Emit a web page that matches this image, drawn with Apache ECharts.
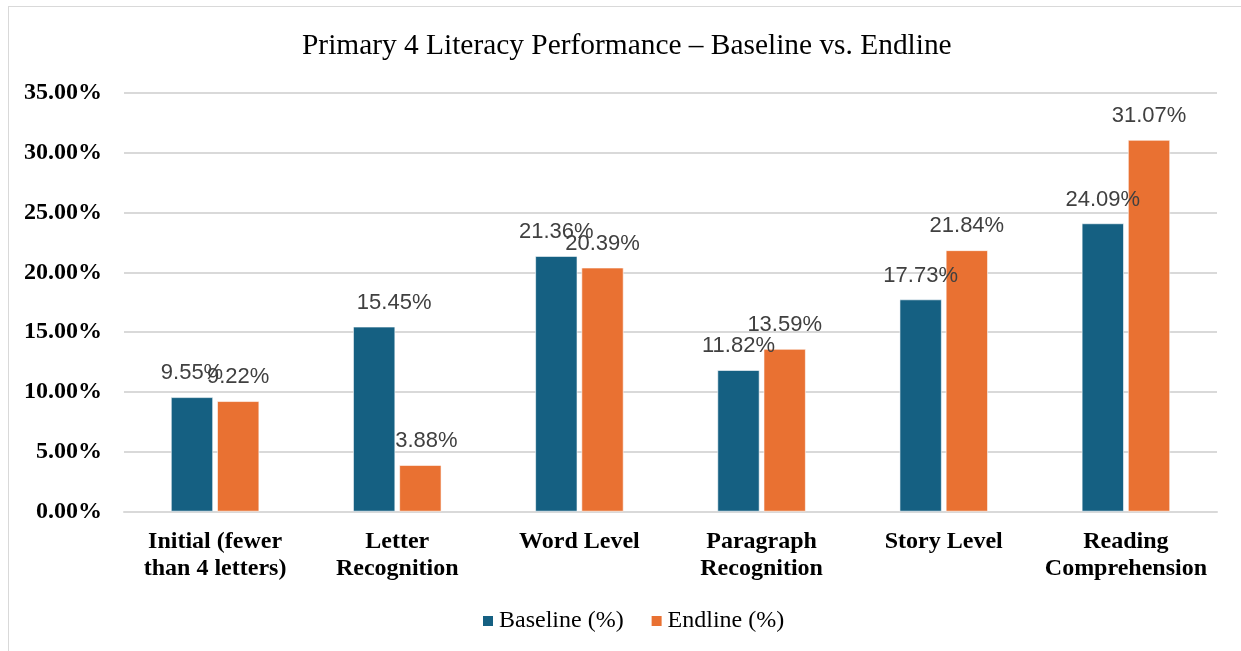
<!DOCTYPE html>
<html>
<head>
<meta charset="utf-8">
<style>
    html, body { margin: 0; padding: 0; background: #fff; }
    #chart { width: 1241px; height: 651px; }
    .frame { position: absolute; left: 8px; top: 6px; right: -2px; bottom: -2px; border: 1px solid #d9d9d9; pointer-events: none; }
</style>
</head>
<body>
<div id="chart"></div>
<div class="frame"></div>
<script src="https://cdn.jsdelivr.net/npm/echarts@6/dist/echarts.min.js"></script>
<script>
    const categories = ['Initial (fewer\nthan 4 letters)', 'Letter\nRecognition', 'Word Level', 'Paragraph\nRecognition', 'Story Level', 'Reading\nComprehension']
    const baseline = [9.55, 15.45, 21.36, 11.82, 17.73, 24.09]
    const endline = [9.22, 3.88, 20.39, 13.59, 21.84, 31.07]
    const legendNames = ['Baseline (%)', 'Endline (%)']

    const myChart = echarts.init(document.getElementById('chart'))
    const serif = '"Liberation Serif", "Times New Roman", serif'
    const sans = '"Liberation Sans", Arial, sans-serif'

    // 柱顶数值标签
    const valueLabel = {
        show: true,
        position: 'top',
        distance: 13,
        color: '#404040',
        fontFamily: sans,
        fontSize: 22,
        formatter: p => p.value.toFixed(2) + '%'
    }

    const option = {
        backgroundColor: '#fff',
        animation: false,
        title: {
            text: 'Primary 4 Literacy Performance \u2013 Baseline vs. Endline',
            left: 297,
            top: 27,
            textStyle: { fontFamily: serif, fontWeight: 'normal', fontSize: 29.4, color: '#000' }
        },
        legend: {
            data: legendNames,
            bottom: 13,
            left: 476,
            icon: 'rect',
            itemWidth: 12,
            itemHeight: 12,
            itemGap: 26,
            textStyle: { fontFamily: serif, fontSize: 24, color: '#000' }
        },
        grid: {
            left: 124,
            right: 24,
            top: 93,
            bottom: 139.5,
            containLabel: false
        },
        xAxis: {
            type: 'category',
            data: categories,
            axisTick: { show: false },
            axisLine: { show: true, lineStyle: { color: '#d9d9d9', width: 2 } },
            axisLabel: {
                margin: 17,
                interval: 0,
                fontFamily: serif,
                fontWeight: 'bold',
                fontSize: 24,
                lineHeight: 27,
                color: '#000'
            }
        },
        yAxis: {
            type: 'value',
            min: 0,
            max: 35,
            interval: 5,
            axisLine: { show: false },
            axisTick: { show: false },
            splitLine: { lineStyle: { color: '#d9d9d9', width: 2 } },
            axisLabel: {
                margin: 22,
                fontFamily: serif,
                fontWeight: 'bold',
                fontSize: 24,
                color: '#000',
                formatter: v => v.toFixed(2) + '%'
            }
        },
        series: [
            {
                name: legendNames[0],
                type: 'bar',
                barWidth: 42,
                barGap: '10%',
                itemStyle: { color: '#156082', borderColor: '#ffffff', borderWidth: 0.6 },
                label: valueLabel,
                data: baseline.map((v, i) => i === 1 ? { value: v, label: { offset: [20, 0] } } : v)
            },
            {
                name: legendNames[1],
                type: 'bar',
                barWidth: 42,
                itemStyle: { color: '#E97132', borderColor: '#ffffff', borderWidth: 0.6 },
                label: valueLabel,
                data: endline.map((v, i) => i === 1 ? { value: v, label: { offset: [6, 0] } } : v)
            }
        ]
    }
    myChart.setOption(option)
</script>
</body>
</html>
